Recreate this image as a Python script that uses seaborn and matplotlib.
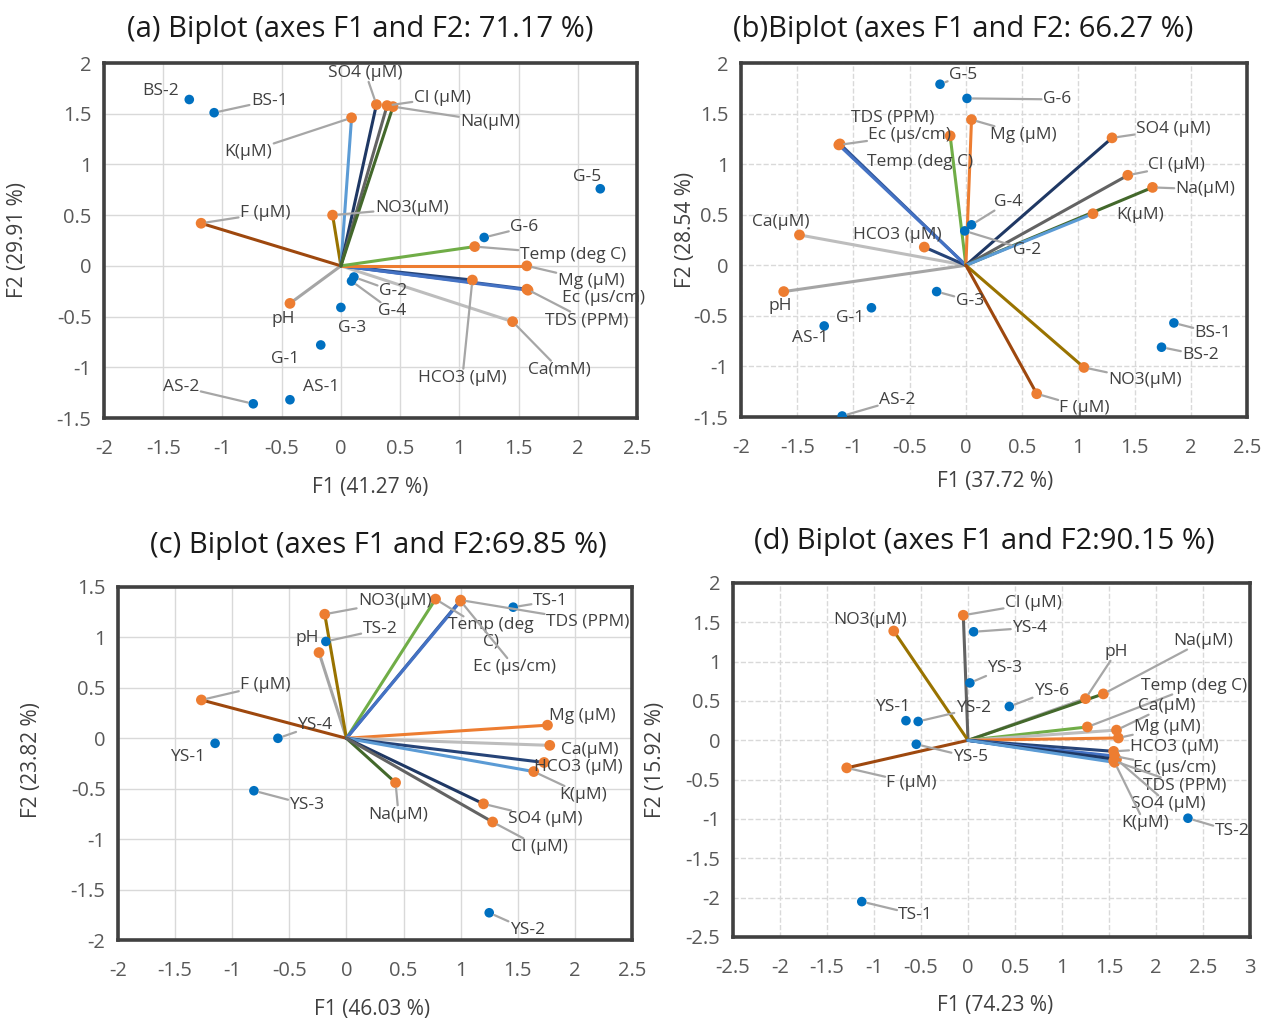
import matplotlib
matplotlib.use("Agg")
import matplotlib.pyplot as plt
from matplotlib.ticker import MultipleLocator, FuncFormatter
import pandas as pd
import seaborn as sns

sns.set_theme(style="white")
plt.rcParams["font.family"] = ["Open Sans", "DejaVu Sans"]

W, H = 1265, 1023

# ---------------- panel (a) ----------------
a_var_names = ["Ca(mM)", "pH", "HCO3 (µM)", "TDS (PPM)", "Ec (µs/cm)", "Mg (µM)", "Temp (deg C)",
               "F (µM)", "NO3(µM)", "K(µM)", "SO4 (µM)", "Cl (µM)", "Na(µM)"]
a_var_f1 = [1.45, -0.43, 1.11, 1.57, 1.58, 1.57, 1.13, -1.18, -0.07, 0.09, 0.30, 0.39, 0.44]
a_var_f2 = [-0.55, -0.37, -0.14, -0.23, -0.24, 0.00, 0.19, 0.42, 0.50, 1.46, 1.59, 1.58, 1.57]
a_obs_names = ["BS-2", "BS-1", "G-5", "G-6", "G-2", "G-4", "G-3", "G-1", "AS-1", "AS-2"]
a_obs_f1 = [-1.28, -1.07, 2.19, 1.21, 0.11, 0.09, 0.00, -0.17, -0.43, -0.74]
a_obs_f2 = [1.64, 1.51, 0.76, 0.28, -0.11, -0.15, -0.41, -0.78, -1.32, -1.36]

# ---------------- panel (b) ----------------
b_var_names = ["Ca(µM)", "pH", "HCO3 (µM)", "TDS (PPM)", "Ec (µs/cm)", "Temp (deg C)", "Mg (µM)",
               "SO4 (µM)", "Cl (µM)", "Na(µM)", "K(µM)", "NO3(µM)", "F (µM)"]
b_var_f1 = [-1.48, -1.62, -0.37, -1.12, -1.13, -0.14, 0.05, 1.30, 1.44, 1.66, 1.13, 1.05, 0.63]
b_var_f2 = [0.30, -0.26, 0.18, 1.20, 1.19, 1.28, 1.44, 1.26, 0.89, 0.77, 0.51, -1.01, -1.27]
b_obs_names = ["G-5", "G-6", "G-4", "G-2", "G-3", "G-1", "AS-1", "AS-2", "BS-1", "BS-2"]
b_obs_f1 = [-0.23, 0.01, 0.05, -0.01, -0.26, -0.84, -1.26, -1.10, 1.85, 1.74]
b_obs_f2 = [1.79, 1.65, 0.40, 0.34, -0.26, -0.42, -0.60, -1.49, -0.57, -0.81]

# ---------------- panel (c) ----------------
c_var_names = ["pH", "NO3(µM)", "F (µM)", "Temp (deg\nC)", "TDS (PPM)", "Ec (µs/cm)", "Mg (µM)",
               "Ca(µM)", "HCO3 (µM)", "K(µM)", "Na(µM)", "SO4 (µM)", "Cl (µM)"]
c_var_f1 = [-0.24, -0.19, -1.27, 0.78, 1.00, 1.00, 1.76, 1.78, 1.73, 1.64, 0.43, 1.20, 1.28]
c_var_f2 = [0.85, 1.23, 0.38, 1.38, 1.37, 1.36, 0.13, -0.07, -0.24, -0.33, -0.44, -0.65, -0.83]
c_obs_names = ["TS-1", "TS-2", "YS-4", "YS-1", "YS-3", "YS-2"]
c_obs_f1 = [1.46, -0.18, -0.60, -1.15, -0.81, 1.25]
c_obs_f2 = [1.30, 0.96, 0.00, -0.05, -0.52, -1.73]

# ---------------- panel (d) ----------------
d_var_names = ["Cl (µM)", "NO3(µM)", "F (µM)", "pH", "Na(µM)", "Temp (deg C)", "Ca(µM)", "Mg (µM)",
               "HCO3 (µM)", "Ec (µs/cm)", "TDS (PPM)", "SO4 (µM)", "K(µM)"]
d_var_f1 = [-0.05, -0.79, -1.29, 1.25, 1.44, 1.27, 1.58, 1.60, 1.55, 1.56, 1.55, 1.58, 1.56]
d_var_f2 = [1.59, 1.39, -0.35, 0.53, 0.59, 0.17, 0.13, 0.03, -0.14, -0.20, -0.26, -0.24, -0.28]
d_obs_names = ["YS-4", "YS-3", "YS-6", "YS-1", "YS-2", "YS-5", "TS-1", "TS-2"]
d_obs_f1 = [0.06, 0.02, 0.44, -0.66, -0.53, -0.55, -1.13, 2.34]
d_obs_f2 = [1.38, 0.73, 0.43, 0.25, 0.24, -0.05, -2.05, -0.99]

titles = ["(a) Biplot (axes F1 and F2: 71.17 %)", "(b)Biplot (axes F1 and F2: 66.27 %)",
          "(c) Biplot (axes F1 and F2:69.85 %)", "(d) Biplot (axes F1 and F2:90.15 %)"]
f1_labels = ["F1 (41.27 %)", "F1 (37.72 %)", "F1 (46.03 %)", "F1 (74.23 %)"]
f2_labels = ["F2 (29.91 %)", "F2 (28.54 %)", "F2 (23.82 %)", "F2 (15.92 %)"]

# vector colour for each variable
var_colors = {
    "Temp": "#70AD47", "pH": "#A5A5A5", "Ec": "#4472C4", "TDS": "#2F5597",
    "HCO3": "#264478", "F": "#9E480E", "Cl": "#636363", "NO3": "#997300",
    "SO4": "#1F3864", "Ca": "#BDBDBD", "Mg": "#ED7D31", "Na": "#43682B", "K": "#5B9BD5",
}

# label placement: offset of the label centre from its point in pixels
# (dx right, dy down) and whether a leader line is drawn
a_place = {
    "BS-2": (-29, -9, False), "BS-1": (55, -12, True), "G-5": (-13, -12, False),
    "G-6": (40, -10, True), "G-2": (39, 14, True), "G-4": (41, 30, True),
    "G-3": (11, 21, False), "G-1": (-36, 14, False), "AS-1": (31, -13, False),
    "AS-2": (-72, -17, True), "SO4 (µM)": (-11, -32, True), "Cl (µM)": (55, -8, True),
    "Na(µM)": (97, 15, True), "K(µM)": (-103, 34, True), "NO3(µM)": (79, -7, True),
    "F (µM)": (64, -10, True), "Temp (deg C)": (98, 8, True), "Mg (µM)": (64, 15, True),
    "Ec (µs/cm)": (75, 8, False), "TDS (PPM)": (60, 31, True), "HCO3 (µM)": (-10, 98, True),
    "Ca(mM)": (47, 48, True), "pH": (-7, 16, False),
}
b_place = {
    "G-5": (23, -9, True), "G-6": (90, 1, True), "TDS (PPM)": (53, -26, False),
    "Ec (µs/cm)": (71, -10, True), "Temp (deg C)": (-30, 26, False), "Mg (µM)": (52, 15, True),
    "SO4 (µM)": (61, -9, True), "Cl (µM)": (49, -10, True), "Na(µM)": (53, 2, True),
    "K(µM)": (47, 1, False), "G-4": (37, -23, True), "G-2": (62, 19, True),
    "Ca(µM)": (-19, -13, False), "HCO3 (µM)": (-27, -12, False), "pH": (-3, 14, False),
    "G-3": (33, 9, True), "G-1": (-21, 10, False), "AS-1": (-14, 12, False),
    "AS-2": (55, -16, True), "BS-1": (39, 10, True), "BS-2": (39, 8, True),
    "NO3(µM)": (61, 13, True), "F (µM)": (48, 14, True),
}
c_place = {
    "TS-1": (37, -6, True), "NO3(µM)": (70, -13, True), "TS-2": (54, -12, True),
    "pH": (-12, -15, False), "Temp (deg\nC)": (55, 34, True), "TDS (PPM)": (127, 21, True),
    "Ec (µs/cm)": (54, 66, True), "F (µM)": (64, -15, True), "YS-4": (37, -13, True),
    "YS-1": (-28, 14, False), "YS-3": (53, 14, True), "Mg (µM)": (35, -9, False),
    "Ca(µM)": (40, 5, False), "HCO3 (µM)": (34, 5, False), "K(µM)": (49, 23, True),
    "Na(µM)": (3, 32, True), "SO4 (µM)": (62, 15, True), "Cl (µM)": (47, 25, True),
    "YS-2": (38, 17, True),
}
d_place = {
    "Cl (µM)": (70, -12, True), "YS-4": (56, -4, True), "NO3(µM)": (-24, -11, False),
    "YS-3": (35, -15, True), "YS-6": (42, -16, True), "YS-1": (-13, -14, False),
    "YS-2": (55, -13, True), "YS-5": (54, 13, True), "F (µM)": (65, 15, True),
    "TS-1": (54, 13, True), "TS-2": (44, 13, True), "pH": (31, -47, True),
    "Na(µM)": (100, -53, True), "Temp (deg C)": (107, -41, True), "Ca(µM)": (50, -24, True),
    "Mg (µM)": (49, -11, True), "HCO3 (µM)": (61, -4, True), "Ec (µs/cm)": (60, 12, True),
    "TDS (PPM)": (71, 25, True), "SO4 (µM)": (52, 45, True), "K(µM)": (30, 61, True),
}

panels = [
    dict(var=(a_var_names, a_var_f1, a_var_f2), obs=(a_obs_names, a_obs_f1, a_obs_f2), place=a_place,
         xlim=(-2, 2.5), ylim=(-1.5, 2), box=(104, 637, 63, 418), grid="-",
         title=(360, 30), xlab=(370, 487), ylab=(18, 240)),
    dict(var=(b_var_names, b_var_f1, b_var_f2), obs=(b_obs_names, b_obs_f1, b_obs_f2), place=b_place,
         xlim=(-2, 2.5), ylim=(-1.5, 2), box=(741, 1247, 63, 417), grid="--",
         title=(963, 30), xlab=(995, 481), ylab=(685, 230)),
    dict(var=(c_var_names, c_var_f1, c_var_f2), obs=(c_obs_names, c_obs_f1, c_obs_f2), place=c_place,
         xlim=(-2, 2.5), ylim=(-2, 1.5), box=(118, 632, 587, 940), grid="-",
         title=(378, 545), xlab=(372, 1010), ylab=(32, 760)),
    dict(var=(d_var_names, d_var_f1, d_var_f2), obs=(d_obs_names, d_obs_f1, d_obs_f2), place=d_place,
         xlim=(-2.5, 3), ylim=(-2.5, 2), box=(733, 1250, 583, 937), grid="--",
         title=(984, 542), xlab=(995, 1005), ylab=(655, 760)),
]

TEXT = "#404040"
LEADER = "#A6A6A6"

fig = plt.figure(figsize=(W / 100, H / 100), dpi=100)


def var_key(name):
    return name.split("(")[0].strip()


def add_label(ax, text, x, y, spec):
    dx, dy, leader = spec
    kw = {}
    if leader:
        kw["arrowprops"] = dict(arrowstyle="-", color=LEADER, lw=1.6, shrinkA=1, shrinkB=4)
    ax.annotate(text, xy=(x, y), xytext=(dx, -dy), textcoords="offset pixels",
                ha="center", va="center", fontsize=12.5, color=TEXT, linespacing=1.0,
                bbox=dict(boxstyle="square,pad=0.0", fc="none", ec="none"),
                annotation_clip=False, zorder=6, **kw)


for i, p in enumerate(panels):
    l, r, t, b = p["box"]
    ax = fig.add_axes([l / W, 1 - b / H, (r - l) / W, (b - t) / H])
    vnames, vf1, vf2 = p["var"]
    onames, of1, of2 = p["obs"]

    # loading vectors from the origin
    for n, x, y in zip(vnames, vf1, vf2):
        ax.plot([0, x], [0, y], color=var_colors[var_key(n)], lw=2.2, solid_capstyle="round", zorder=3)

    var_df = pd.DataFrame({"name": vnames, "F1": vf1, "F2": vf2})
    obs_df = pd.DataFrame({"name": onames, "F1": of1, "F2": of2})
    sns.scatterplot(data=var_df, x="F1", y="F2", ax=ax, color="#ED7D31", s=60,
                    edgecolor="none", zorder=4)
    sns.scatterplot(data=obs_df, x="F1", y="F2", ax=ax, color="#0070C0", s=48,
                    edgecolor="none", zorder=4)

    for n, x, y in zip(vnames, vf1, vf2):
        add_label(ax, n, x, y, p["place"][n])
    for n, x, y in zip(onames, of1, of2):
        add_label(ax, n, x, y, p["place"][n])

    ax.set_xlim(*p["xlim"])
    ax.set_ylim(*p["ylim"])
    ax.xaxis.set_major_locator(MultipleLocator(0.5))
    ax.yaxis.set_major_locator(MultipleLocator(0.5))
    fmt = FuncFormatter(lambda v, _: "0" if abs(v) < 1e-9 else f"{v:g}")
    ax.xaxis.set_major_formatter(fmt)
    ax.yaxis.set_major_formatter(fmt)
    ax.set_xlabel("")
    ax.set_ylabel("")
    ax.tick_params(axis="both", length=0, labelsize=14.5, labelcolor="#595959")
    ax.tick_params(axis="x", pad=15)
    ax.tick_params(axis="y", pad=9)
    ax.set_axisbelow(True)
    ax.grid(True, color="#D9D9D9", lw=1.0, ls=p["grid"])
    for s in ax.spines.values():
        s.set_color("#404040")
        s.set_linewidth(2.6)

    tx, ty = p["title"]
    fig.text(tx / W, 1 - ty / H, titles[i], ha="center", va="center", fontsize=21, color="#1A1A1A")
    xx, xy = p["xlab"]
    fig.text(xx / W, 1 - xy / H, f1_labels[i], ha="center", va="center", fontsize=15, color=TEXT)
    yx, yy = p["ylab"]
    fig.text(yx / W, 1 - yy / H, f2_labels[i], ha="center", va="center", rotation=90,
             fontsize=15, color=TEXT)

fig.savefig("out.png", dpi=100, facecolor="white")
